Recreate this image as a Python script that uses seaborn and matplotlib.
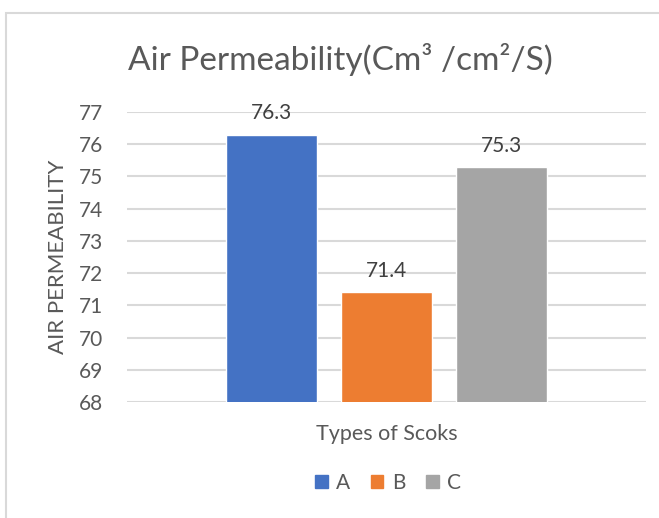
import pandas as pd
import matplotlib.pyplot as plt
import seaborn as sns
from matplotlib.patches import Rectangle, Patch

# dados
tipos = ['A', 'B', 'C']
permeabilidade = [76.3, 71.4, 75.3]
categoria = ['Types of Scoks'] * 3
cores = ['#4472C4', '#ED7D31', '#A5A5A5']

df = pd.DataFrame({'Categoria': categoria, 'Tipo': tipos, 'Valor': permeabilidade})

sns.set_style('white')
plt.rcParams['font.family'] = ['Lato', 'DejaVu Sans']

fig = plt.figure(figsize=(6.59, 5.18), dpi=100)
ax = fig.add_axes([127 / 659, 1 - 402 / 518, 519 / 659, 290 / 518])

sns.barplot(data=df, x='Categoria', y='Valor', hue='Tipo', palette=cores,
            width=0.665, gap=0.209, saturation=1, ax=ax, legend=False)

ax.set_xlim(-0.5, 0.5)
ax.set_ylim(68, 77)
ax.set_yticks(range(68, 78))
ax.yaxis.grid(True, color='#d9d9d9', linewidth=1.5)
ax.set_axisbelow(True)
for s in ax.spines.values():
    s.set_visible(False)
ax.tick_params(axis='y', length=0, pad=17, labelsize=15, labelcolor='#595959')
ax.set_xticks([])
ax.set_xlabel('Types of Scoks', fontsize=15.5, color='#595959', labelpad=16)
ax.set_ylabel('AIR PERMEABILITY', fontsize=16, color='#595959', labelpad=8)

for c in ax.containers:
    ax.bar_label(c, fmt='%.1f', padding=8, fontsize=15, color='#404040')

fig.text(340 / 659, 1 - 60 / 518, 'Air Permeability(Cm³ /cm²/S)',
         ha='center', va='center', fontsize=24, color='#595959')

handles = [Patch(color=c, label=t) for t, c in zip(tipos, cores)]
fig.legend(handles=handles, loc='center', bbox_to_anchor=(388 / 659, 1 - 483 / 518),
           ncol=3, frameon=False, fontsize=15, labelcolor='#595959',
           handlelength=0.6, handleheight=0.6, handletextpad=0.4, columnspacing=1.0)

# borda do gráfico
fig.patches.append(Rectangle((5.5 / 659, -0.1), 1.2, 1 - 13 / 518 + 0.1,
                             transform=fig.transFigure, fill=False,
                             edgecolor='#d9d9d9', linewidth=1.5))

fig.savefig('out.png', dpi=100)
